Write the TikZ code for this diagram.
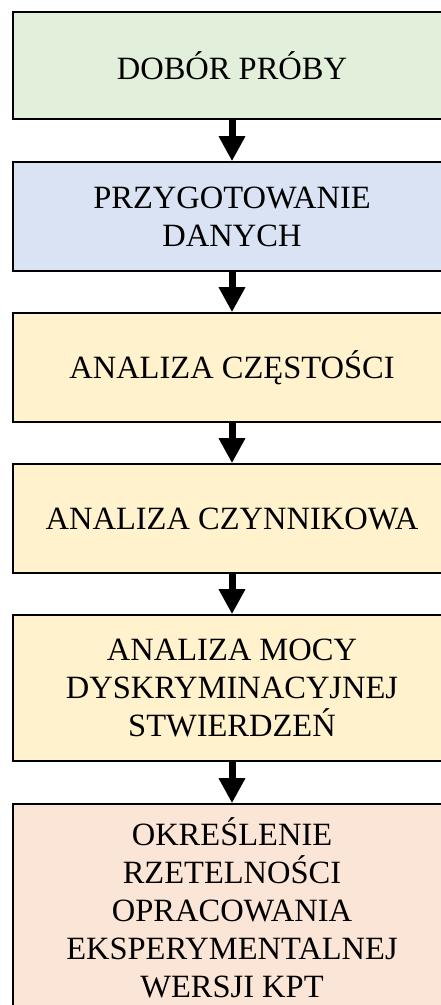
\documentclass[tikz,border=0pt]{standalone}
\usepackage{fontspec}
\setmainfont{Liberation Serif}
\usetikzlibrary{arrows.meta}
\definecolor{stepgreen}{HTML}{E2EFDA}
\definecolor{stepblue}{HTML}{DAE3F3}
\definecolor{stepyellow}{HTML}{FFF2CC}
\definecolor{steporange}{HTML}{FBE5D6}
\begin{document}
\begin{tikzpicture}[x=1pt,y=-1pt,
  stepbox/.style={draw=black,line width=1.6pt,rectangle,inner sep=0pt,
    minimum width=438pt,align=center,
    font=\fontsize{32.5}{38}\selectfont},
  flow/.style={line width=7pt,-{Triangle[width=25pt,length=25pt]}}]
\useasboundingbox (0,0) rectangle (440,1005);
% process steps, top to bottom
\node[stepbox,fill=stepgreen,minimum height=107pt] (b1) at (232,65.5) {DOBÓR PRÓBY};
\node[stepbox,fill=stepblue,minimum height=109pt] (b2) at (232,216.5) {PRZYGOTOWANIE\\DANYCH};
\node[stepbox,fill=stepyellow,minimum height=109pt] (b3) at (232,367.5) {ANALIZA CZĘSTOŚCI};
\node[stepbox,fill=stepyellow,minimum height=109pt] (b4) at (232,518.5) {ANALIZA CZYNNIKOWA};
\node[stepbox,fill=stepyellow,minimum height=146pt] (b5) at (232,688) {ANALIZA MOCY\\DYSKRYMINACYJNEJ\\STWIERDZEŃ};
\node[stepbox,fill=steporange,minimum height=208pt] (b6) at (232,908) {OKREŚLENIE\\RZETELNOŚCI\\OPRACOWANIA\\EKSPERYMENTALNEJ\\WERSJI KPT};
% connectors
\draw[flow] (b1.south) -- (b2.north);
\draw[flow] (b2.south) -- (b3.north);
\draw[flow] (b3.south) -- (b4.north);
\draw[flow] (b4.south) -- (b5.north);
\draw[flow] (b5.south) -- (b6.north);
\end{tikzpicture}
\end{document}
